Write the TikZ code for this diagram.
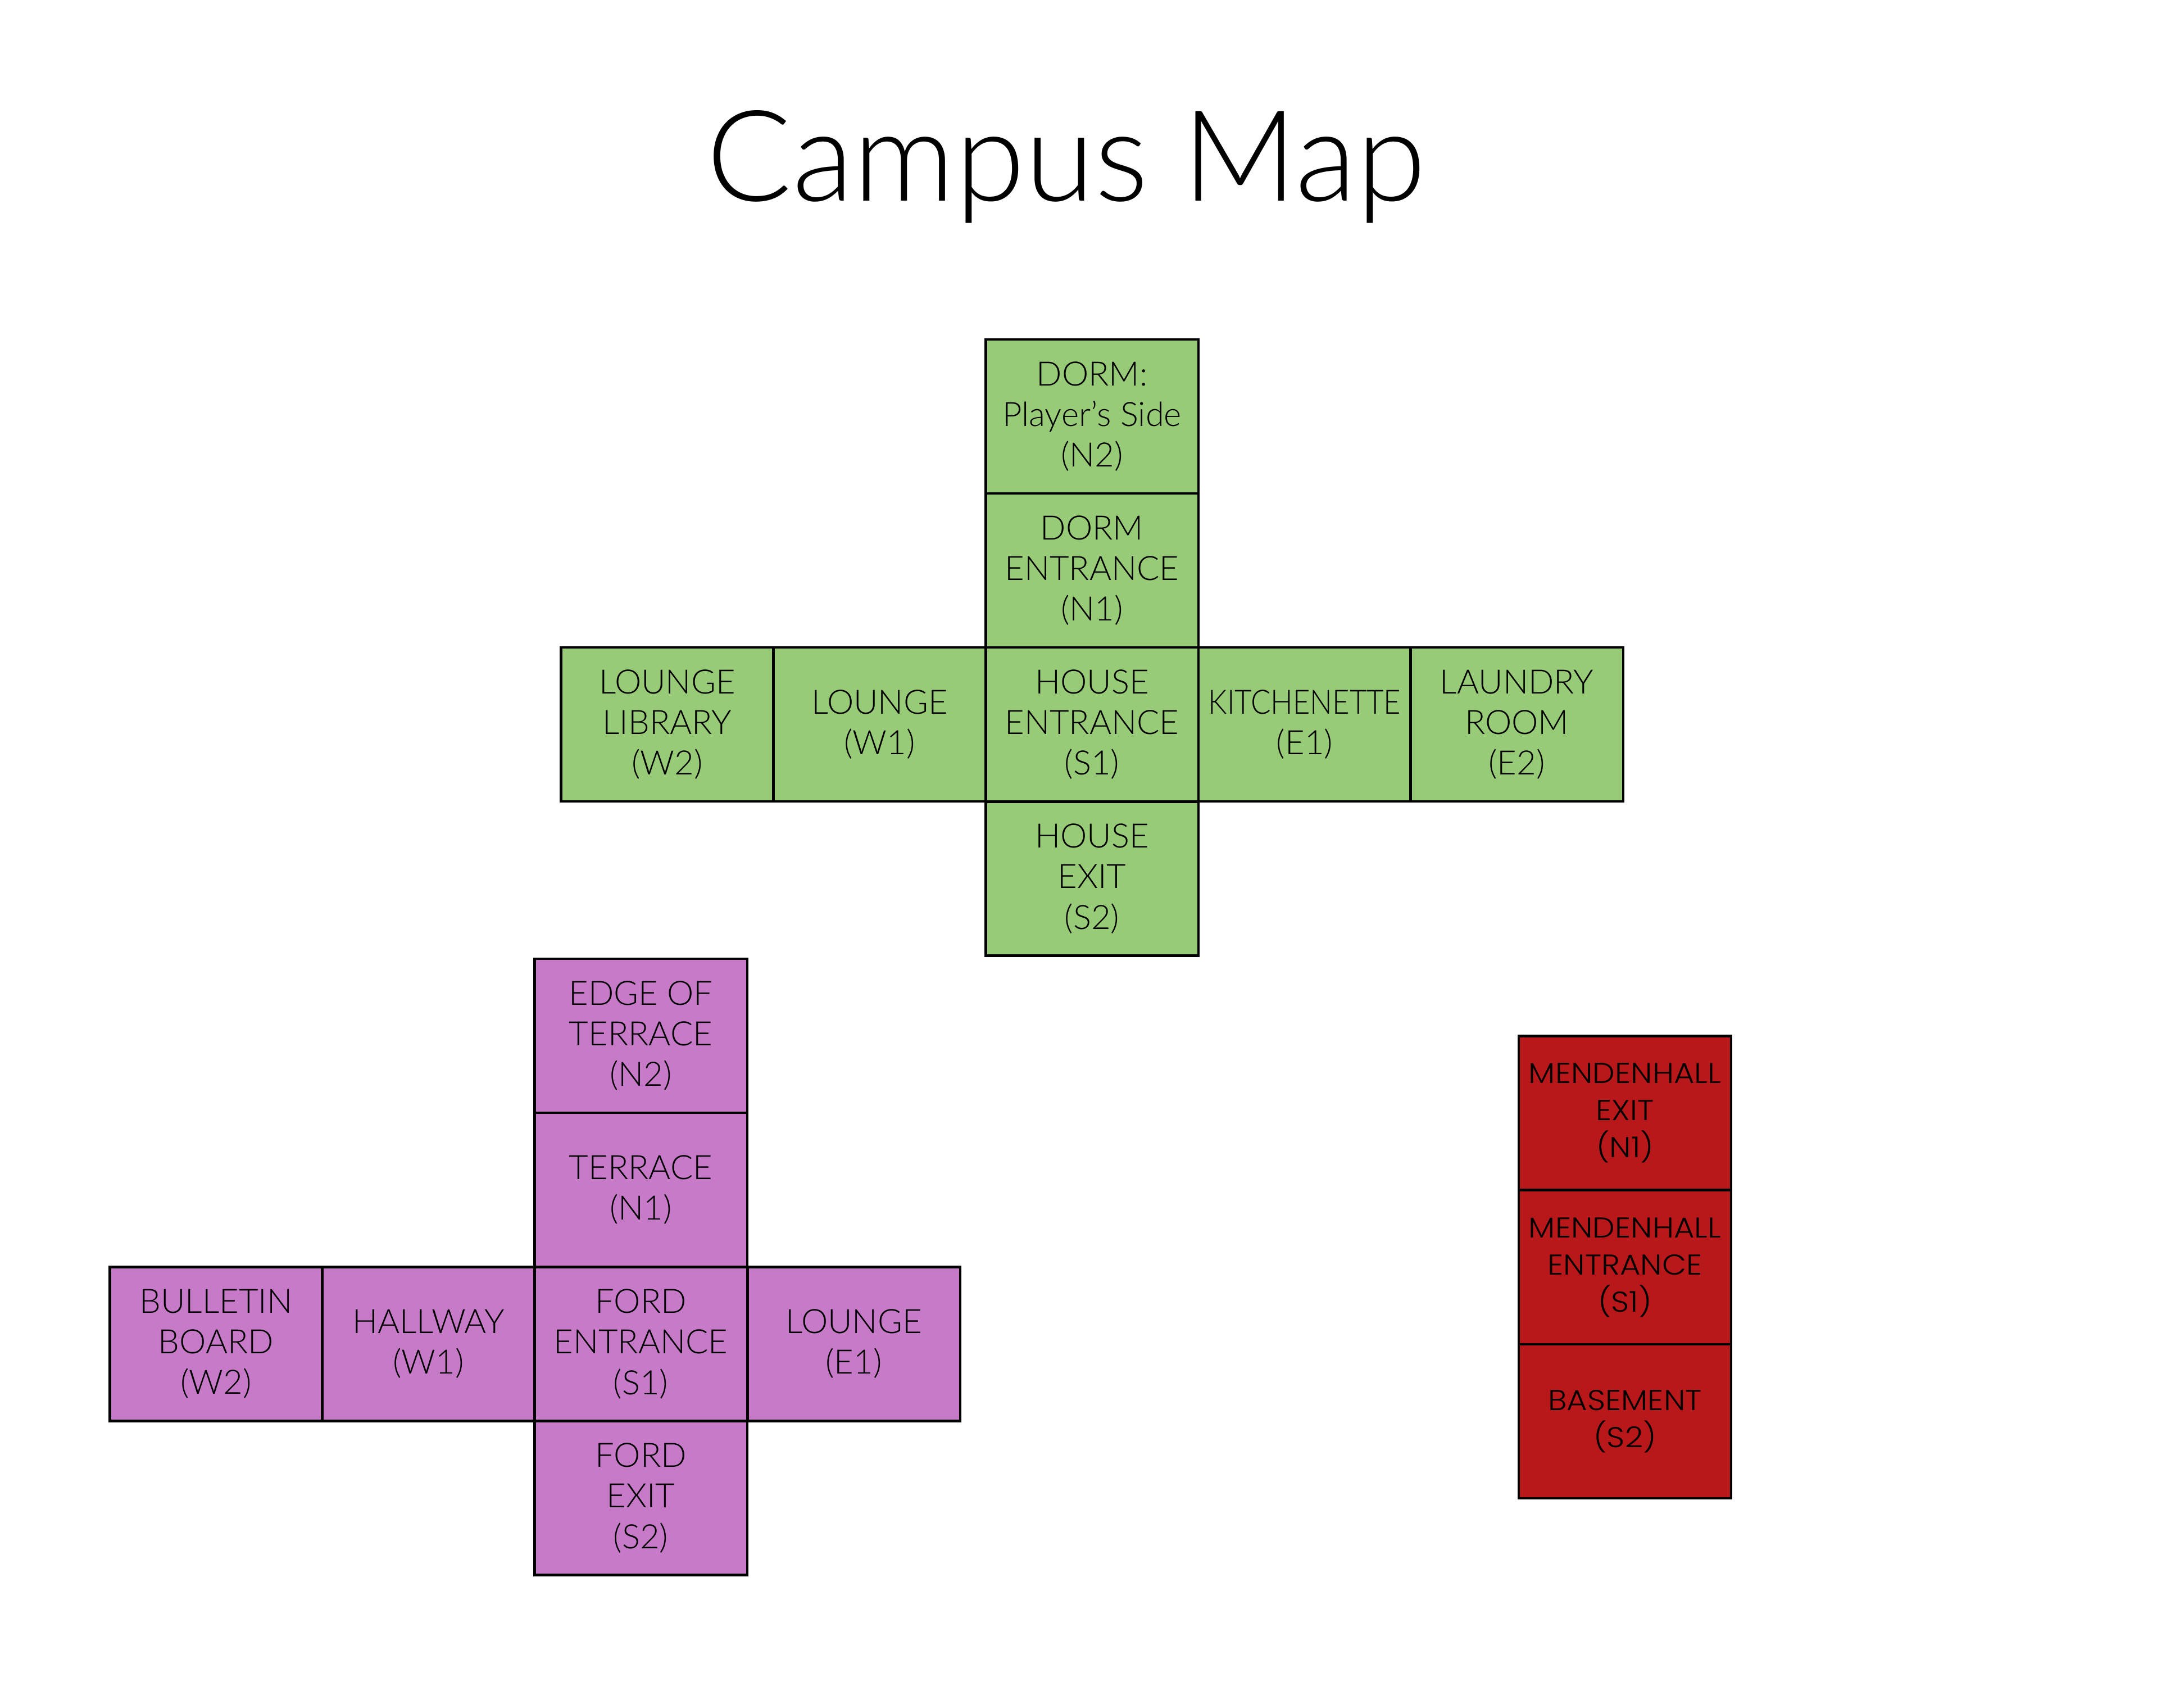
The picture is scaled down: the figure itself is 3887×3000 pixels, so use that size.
\documentclass[tikz,border=0pt]{standalone}
\usepackage{fontspec}
\setmainfont{Lato}[UprightFont=* Light]
\newfontfamily\wideface{Poppins}[UprightFont=* Light, FakeStretch=1.1]
\definecolor{housegreen}{RGB}{152,203,120}
\definecolor{fordpurple}{RGB}{198,122,200}
\definecolor{mendred}{RGB}{185,24,26}
\tikzset{
  room/.style={draw=black, line width=1.2pt, minimum width=3.78cm, minimum height=2.74cm,
    inner sep=0pt, align=center, text=black,
    font=\fontsize{17}{20.5}\selectfont},
  house/.style={room, fill=housegreen},
  ford/.style={room, fill=fordpurple},
  mend/.style={room, fill=mendred, font=\wideface\fontsize{14.5}{18.8}\selectfont},
}
\begin{document}
\begin{tikzpicture}[x=0.01cm, y=-0.01cm]
\useasboundingbox (0,0) rectangle (3887,3000);
\node[anchor=base, font=\fontsize{64}{72}\selectfont] (title) at (1898,357) {Campus Map};

% house: the main cross
\node[house] (hN2) at (1943.5,741)  {DORM:\\Player’s Side\\(N2)};
\node[house] (hN1) at (1943.5,1015) {DORM\\ENTRANCE\\(N1)};
\node[house] (hW2) at (1187.5,1289) {LOUNGE\\LIBRARY\\(W2)};
\node[house] (hW1) at (1565.5,1289) {LOUNGE\\(W1)};
\node[house] (hS1) at (1943.5,1289) {HOUSE\\ENTRANCE\\(S1)};
\node[house] (hE1) at (2322,1289)   {\addfontfeature{FakeStretch=0.88}KITCHENETTE\\(E1)};
\node[house] (hE2) at (2699.5,1289) {LAUNDRY\\ROOM\\(E2)};
\node[house] (hS2) at (1943.5,1563.5) {HOUSE\\EXIT\\(S2)};

% ford: the second cross
\node[ford] (fN2) at (1140.5,1843)  {EDGE OF\\TERRACE\\(N2)};
\node[ford] (fN1) at (1140.5,2117)  {TERRACE\\(N1)};
\node[ford] (fW2) at (384.5,2391.5) {BULLETIN\\BOARD\\(W2)};
\node[ford] (fW1) at (762.5,2391.5) {HALLWAY\\(W1)};
\node[ford] (fS1) at (1140.5,2391.5) {FORD\\ENTRANCE\\(S1)};
\node[ford] (fE1) at (1519.5,2391.5) {LOUNGE\\(E1)};
\node[ford] (fS2) at (1140.5,2665.5) {FORD\\EXIT\\(S2)};

% mendenhall: a single column
\node[mend] (mN1) at (2892,1980.5) {MENDENHALL\\EXIT\\(N1)};
\node[mend] (mS1) at (2892,2255)   {MENDENHALL\\ENTRANCE\\(S1)};
\node[mend] (mS2) at (2892,2529)   {BASEMENT\\(S2)};
\end{tikzpicture}
\end{document}
